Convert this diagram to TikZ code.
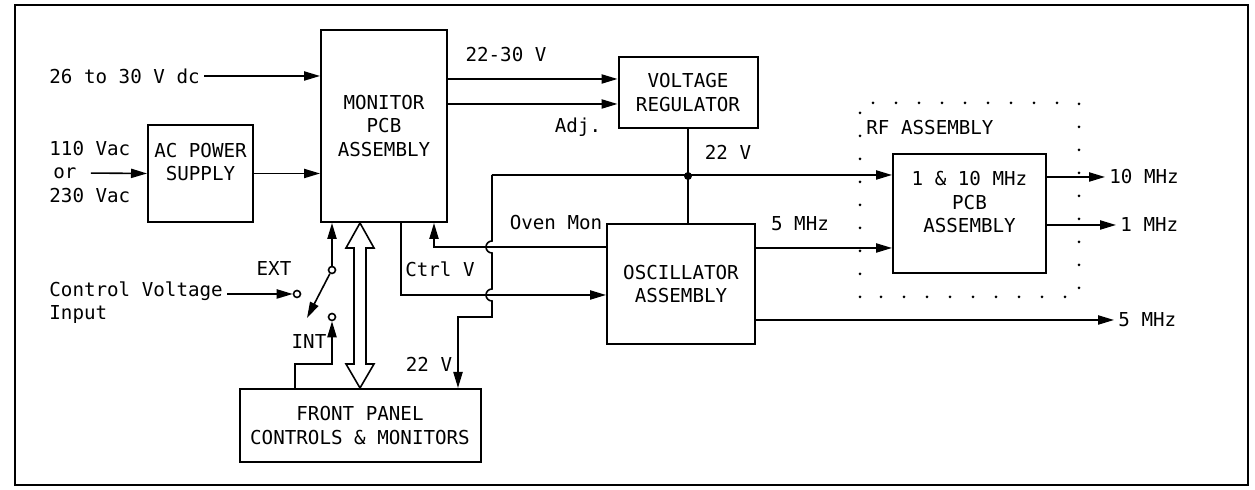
\documentclass[tikz,border=0pt]{standalone}
\usepackage{fontspec}
\setmainfont{DejaVu Sans Mono}
\usetikzlibrary{arrows.meta,calc,positioning}
\tikzset{
  blk/.style={draw,line width=1pt,align=center,inner sep=0pt},
  lbl/.style={inner sep=2pt},
  sig/.style={thick,-{Triangle[length=8pt,width=4.6pt]}},
  term/.style={circle,draw,thick,inner sep=0pt,minimum size=3.5pt}
}
\begin{document}
\begin{tikzpicture}[x=0.5pt,y=0.5pt,font=\fontsize{9.6}{11.6}\selectfont]
  \useasboundingbox (0,0) rectangle (1255,490);
  \draw[thick] (15,5) rectangle (1248,485);

  \node[blk,minimum width=63pt,minimum height=96pt] (mon) at (384,364) {MONITOR\\PCB\\ASSEMBLY};
  \node[blk,minimum width=52.5pt,minimum height=48.5pt] (acps) at (200.5,316.5) {AC POWER\\SUPPLY\\~};
  \node[blk,minimum width=69.5pt,minimum height=35.5pt] (vr) at (688,397.5) {VOLTAGE\\REGULATOR};
  \node[blk,minimum width=120.5pt,minimum height=36.5pt] (fp) at (360,64.5) {FRONT PANEL\\CONTROLS \& MONITORS};
  \node[blk,minimum width=74pt,minimum height=60pt] (osc) at (681,206) {OSCILLATOR\\ASSEMBLY};
  \node[blk,minimum width=76.5pt,minimum height=59.5pt] (rfpcb) at (969.5,276.5) {1 \& 10 MHz\\PCB\\ASSEMBLY\\~};
  \draw[line width=1.5pt,line cap=round,dash pattern=on 0pt off 11.5pt] (860,193) rectangle (1079,387);
  \node[lbl,anchor=west] (rflbl) at (862,362) {RF ASSEMBLY};

  \node[lbl,anchor=west] (dcin) at (45,414) {26 to 30 V dc};
  \node[lbl,anchor=west] (ac110) at (45,341) {110 Vac};
  \node[lbl,anchor=west] (acor) at (49,317) {or};
  \node[lbl,anchor=west] (ac230) at (45,294) {230 Vac};
  \node[lbl,anchor=west,align=left] (cv) at (45,187) {Control Voltage\\Input};

  \node[term] (swext) at (332,220) {};
  \node[term] (swin) at (297,196) {};
  \node[term] (swint) at (332,173) {};
  \coordinate (blade) at (307,172);
  \node[lbl] (ext) at (274,221) {EXT};
  \node[lbl] (int) at (309,148) {INT};

  \node[lbl] (v2230) at (506,435) {22-30 V};
  \node[lbl] (adj) at (578,363) {Adj.};
  \node[lbl] (v22a) at (728,338) {22 V};
  \node[lbl] (ovenmon) at (556,267) {Oven Mon};
  \node[lbl] (ctrlv) at (440,221) {Ctrl V};
  \node[lbl] (v22b) at (429,126) {22 V};
  \node[lbl] (mhz5a) at (800,266) {5 MHz};
  \node[lbl,anchor=west] (out10) at (1105,313) {10 MHz};
  \node[lbl,anchor=west] (out1) at (1116,265) {1 MHz};
  \node[lbl,anchor=west] (out5) at (1114,170) {5 MHz};

  \coordinate (tap) at (492,315);
  \coordinate (j22) at ($(vr.south)+(0,-47)$);
  \coordinate (bustop) at ($(mon.south)+(-24,0)$);
  \coordinate (busbot) at (fp.north);

  \draw[sig] (dcin.east) -- (dcin.east -| mon.west);
  \draw[sig,shorten <=5pt] (acor.east) -- (acps.west);
  \draw[sig] (acps.east) -- (acps.east -| mon.west);
  \draw[sig] ($(mon.east)+(0,47)$) -- ($(vr.west)+(0,13.5)$);
  \draw[sig] ($(mon.east)+(0,22)$) -- ($(vr.west)+(0,-11.5)$);

  \draw[sig] (cv.east |- swin) -- (swin.west);
  \draw[sig] (swext.north) -- (swext.north |- mon.south);
  \draw[sig] (swext.240) -- (blade);
  \draw[sig] ($(fp.north west)+(56.5,0)$) -- ++(0,24) -| (swint.south);
  \draw[thick] (bustop) -- ++(14,-25) -- ++(-8,0) -- ($(busbot)+(6,24)$) -- ++(8,0) -- (busbot)
    -- ++(-14,24) -- ++(8,0) -- ($(bustop)+(-6,-25)$) -- ++(-8,0) -- cycle;

  \draw[sig] ($(osc.west)+(0,37)$) -| ($(mon.south)+(50,0)$);
  \draw[sig] ($(mon.south)+(17,0)$) |- ($(osc.west)+(0,-11)$);
  \draw[thick] (vr.south) -- (vr.south |- osc.north);
  \fill (j22) circle (2pt);
  \draw[sig] (tap) -- (tap -| rfpcb.west);
  \draw[sig] (tap) -- ++(0,-66) arc(90:270:3pt) -- ++(0,-36) arc(90:270:3pt) -- ++(0,-16)
    -| ($(fp.north east)+(-23.5,0)$);

  \draw[sig] ($(osc.east)+(0,36)$) coordinate (o5) -- (o5 -| rfpcb.west);
  \draw[sig] ($(osc.east)+(0,-36)$) -- (out5.west);
  \draw[sig] (rfpcb.east |- out10) -- (out10.west);
  \draw[sig] (rfpcb.east |- out1) -- (out1.west);
\end{tikzpicture}
\end{document}
